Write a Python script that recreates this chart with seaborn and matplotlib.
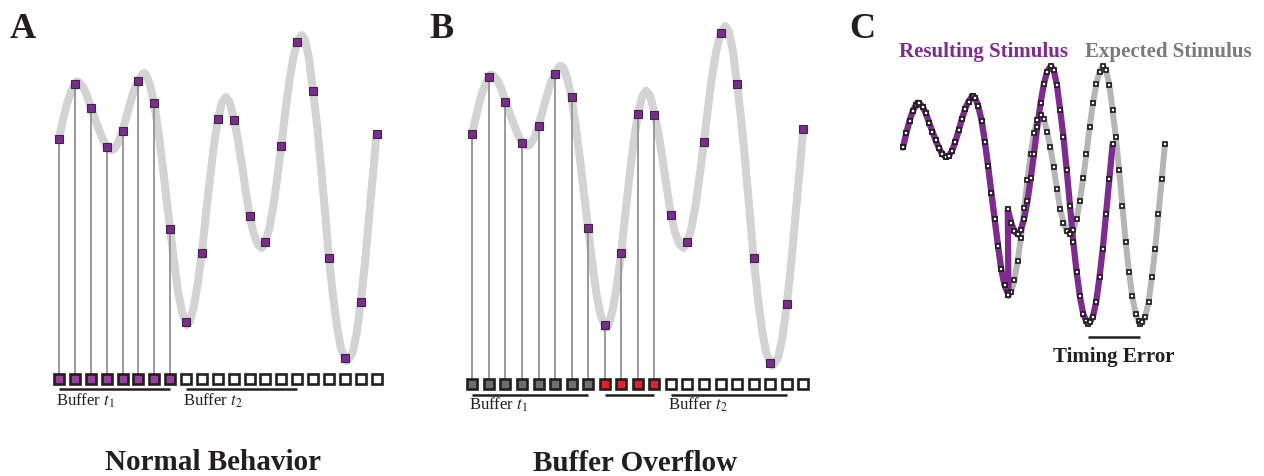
import matplotlib
matplotlib.use("Agg")
import matplotlib.pyplot as plt
import seaborn as sns

sns.set_theme(style="white")
plt.rcParams['font.family'] = ['Liberation Serif', 'DejaVu Serif']
plt.rcParams['mathtext.fontset'] = 'stix'

# ---------------- data ----------------
sample_t = list(range(21))
sample_a = [0.61, 1.16, 0.92, 0.53, 0.69, 1.19, 0.97, -0.29, -1.22, -0.53, 0.81,
            0.80, -0.16, -0.42, 0.54, 1.58, 1.09, -0.58, -1.58, -1.02, 0.66]

# the continuous stimulus, read about every quarter sample plus its extrema
curve_t = [0, 0.25, 0.5, 0.75, 1.0, 1.11, 1.25, 1.5, 1.75, 2.0,
           2.25, 2.5, 2.75, 3.0, 3.25, 3.32, 3.5, 3.75, 4.0, 4.25,
           4.5, 4.75, 5.0, 5.25, 5.35, 5.5, 5.75, 6.0, 6.25, 6.5,
           6.75, 7.0, 7.25, 7.5, 7.75, 8.0, 8.05, 8.25, 8.5, 8.75,
           9.0, 9.25, 9.5, 9.75, 10.0, 10.25, 10.5, 10.75, 11.0, 11.25,
           11.5, 11.75, 12.0, 12.25, 12.5, 12.76, 13.0, 13.25, 13.5, 13.75,
           14.0, 14.25, 14.5, 14.75, 15.0, 15.28, 15.5, 15.75, 16.0, 16.25,
           16.5, 16.75, 17.0, 17.25, 17.5, 17.75, 18.0, 18.12, 18.25, 18.5,
           18.75, 19.0, 19.25, 19.5, 19.75, 20.0]
curve_a = [0.62, 0.80, 0.96, 1.08, 1.16, 1.185, 1.178, 1.135, 1.05, 0.93,
           0.82, 0.71, 0.61, 0.535, 0.502, 0.50, 0.515, 0.58, 0.695, 0.835,
           0.98, 1.11, 1.20, 1.26, 1.27, 1.25, 1.14, 0.96, 0.69, 0.38,
           0.04, -0.29, -0.62, -0.92, -1.12, -1.22, -1.25, -1.21, -1.06, -0.82,
           -0.52, -0.15, 0.21, 0.54, 0.80, 0.97, 1.03, 0.98, 0.82, 0.62,
           0.37, 0.10, -0.16, -0.33, -0.44, -0.48, -0.42, -0.28, -0.06, 0.23,
           0.54, 0.88, 1.18, 1.42, 1.58, 1.65, 1.60, 1.41, 1.09, 0.75,
           0.33, -0.12, -0.58, -0.95, -1.26, -1.48, -1.58, -1.61, -1.59, -1.52,
           -1.33, -1.02, -0.66, -0.22, 0.22, 0.66]

buffer1_len = 8        # samples in Buffer t1
overflow_len = 4       # overflowing samples (red)
buffer2_len = 8        # samples in Buffer t2
last_trough_t = 18.12  # time of the last trough (timing error reference)

panel_titles = ["Normal Behavior", "Buffer Overflow"]
panel_letters = ["A", "B", "C"]
legend_labels = ["Resulting Stimulus", "Expected Stimulus"]

# ---------------- styling ----------------
PURPLE = '#7d2b8f'
CURVE_GREY = '#d3d3d3'
STEM = '#9a9a9a'
DARK = '#231f20'
W, H = 1264, 476
fig = plt.figure(figsize=(W / 100, H / 100), dpi=100)


def axes_px(box, x0px, dx, y0px, dy):
    l, t, r, b = box
    ax = fig.add_axes([l / W, 1 - b / H, (r - l) / W, (b - t) / H])
    ax.set_xlim((l - x0px) / dx, (r - x0px) / dx)
    ax.set_ylim((y0px - b) / dy, (y0px - t) / dy)
    ax.set_axis_off()
    return ax


def draw_signal_panel(ax, buf_a, line_a, text_a, groups):
    sns.lineplot(x=curve_t, y=curve_a, ax=ax, sort=False, estimator=None,
                 color=CURVE_GREY, lw=5.8, zorder=1,
                 solid_capstyle='round', solid_joinstyle='round')
    n_stem = sum(g[0] for g in groups if g[1] is not None)
    ax.vlines(sample_t[:n_stem], [buf_a] * n_stem, sample_a[:n_stem],
              color=STEM, lw=1.4, zorder=2)
    ax.plot(sample_t, sample_a, ls='none', marker='s', ms=5.6, mfc=PURPLE,
            mec='#3b2a3f', mew=0.8, zorder=4)
    start = 0
    for n, face, label in groups:
        idx = sample_t[start:start + n]
        ax.plot(idx, [buf_a] * len(idx), ls='none', marker='s', ms=6.6,
                mfc=face if face else 'white', mec=DARK, mew=1.9, zorder=3)
        ax.hlines(line_a, idx[0], idx[-1], color=DARK, lw=1.8)
        if label:
            ax.text(idx[0] - 0.2, text_a, label, fontsize=12, color=DARK,
                    ha='left', va='baseline')
        start += n
    rest = sample_t[start:]
    ax.plot(rest, [buf_a] * len(rest), ls='none', marker='s', ms=6.6,
            mfc='white', mec=DARK, mew=1.9, zorder=3)


axA = axes_px((40, 20, 400, 420), 59, 15.88, 200, 100)
draw_signal_panel(axA, -1.79, -1.895, -2.06,
                  [(buffer1_len, '#9c3fa0', r'Buffer $t_{1}$'),
                   (buffer2_len, None, r'Buffer $t_{2}$')])

axB = axes_px((440, 15, 830, 425), 472.3, 16.55, 198, 104.2)
draw_signal_panel(axB, -1.785, -1.888, -2.03,
                  [(buffer1_len, '#6e6e6e', r'Buffer $t_{1}$'),
                   (overflow_len, '#e3202b', ''),
                   (buffer2_len, None, r'Buffer $t_{2}$')])

axC = axes_px((870, 0, 1264, 476), 903, 13.1, 196.5, 79.1)
skip = overflow_len
cut = buffer1_len + 0.05
res_pre_t = [t for t in curve_t if t <= cut]
res_pre_a = [a for t, a in zip(curve_t, curve_a) if t <= cut]
res_post_t = [t - skip for t in curve_t if t >= buffer1_len + skip]
res_post_a = [a for t, a in zip(curve_t, curve_a) if t >= buffer1_len + skip]
res_t = res_pre_t + res_post_t
res_a = res_pre_a + res_post_a

sns.lineplot(x=curve_t, y=curve_a, ax=axC, sort=False, estimator=None,
             color='#b5b5b5', lw=4.3, zorder=1, solid_joinstyle='round')
sns.lineplot(x=res_t, y=res_a, ax=axC, sort=False, estimator=None,
             color=PURPLE, lw=4.5, zorder=2, solid_joinstyle='round')
mk = dict(ls='none', marker='s', ms=3.4, mfc='white', mec=DARK, mew=1.25)
axC.plot(curve_t, curve_a, zorder=5, **mk)
axC.plot(res_pre_t, res_pre_a, zorder=6, **mk)
axC.plot(res_post_t, res_post_a, zorder=6, **mk)
axC.hlines(-1.776, last_trough_t - skip, last_trough_t, color=DARK, lw=1.8)
axC.text((last_trough_t - skip + last_trough_t) / 2, -2.09, "Timing Error",
         fontsize=15, fontweight='bold', color=DARK, ha='center', va='baseline')


def ftext(xpx, ypx, s, **kw):
    fig.text(xpx / W, 1 - ypx / H, s, **kw)


for (xp, letter) in zip([10, 429, 849], panel_letters):
    ftext(xp, 37.5, letter, fontsize=26, fontweight='bold', color=DARK,
          ha='left', va='baseline')
ftext(213, 470, panel_titles[0], fontsize=21, fontweight='bold', color=DARK,
      ha='center', va='baseline')
ftext(635, 471, panel_titles[1], fontsize=21, fontweight='bold', color=DARK,
      ha='center', va='baseline')
ftext(899, 56.5, legend_labels[0], fontsize=15, fontweight='bold', color=PURPLE,
      ha='left', va='baseline')
ftext(1085, 56.5, legend_labels[1], fontsize=15, fontweight='bold', color='#7a7a7a',
      ha='left', va='baseline')

fig.savefig("out.png", dpi=100, facecolor='white')
